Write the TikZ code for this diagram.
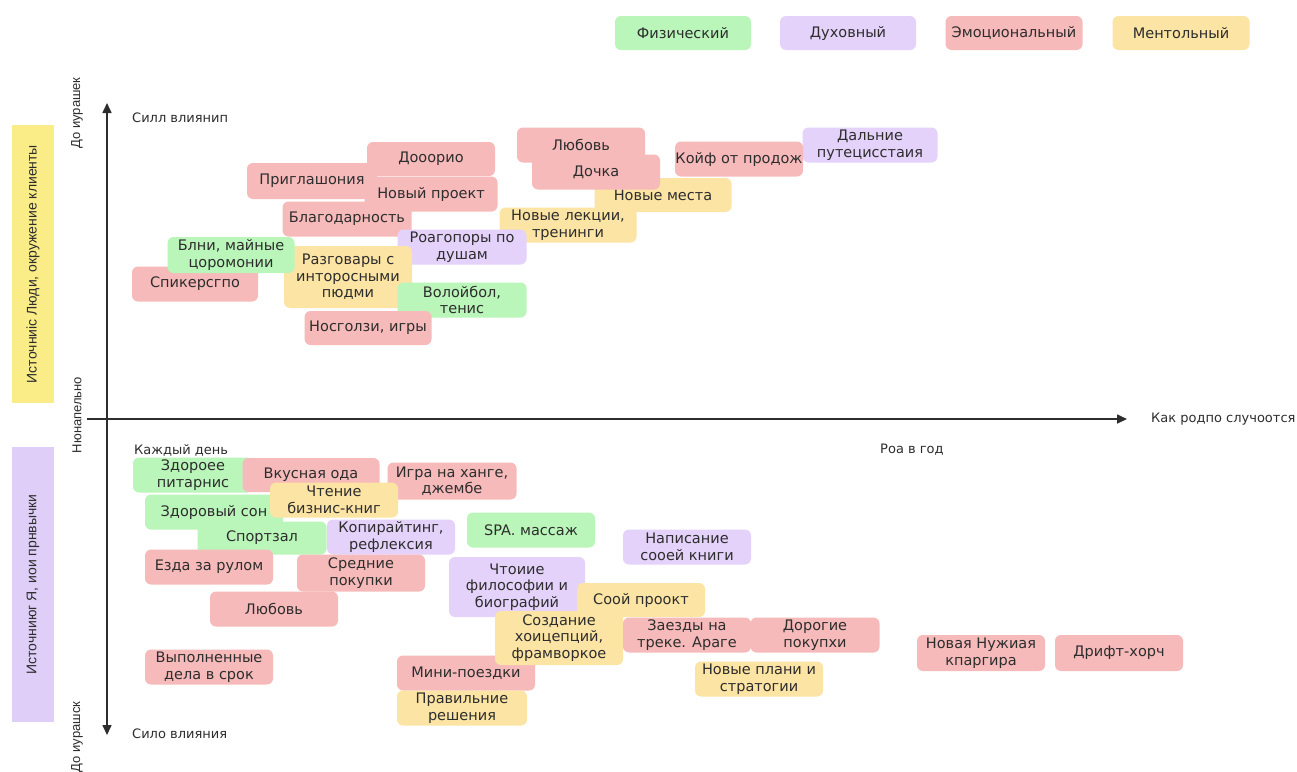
\documentclass[tikz,border=0pt]{standalone}
\usepackage{fontspec}
\setmainfont{DejaVu Sans}
\newfontfamily\narrowfont{Liberation Sans}
\usetikzlibrary{arrows.meta}
\definecolor{cgreen}{RGB}{186,245,186}
\definecolor{cpurple}{RGB}{229,210,250}
\definecolor{cpink}{RGB}{246,186,186}
\definecolor{cyellow}{RGB}{252,228,164}
\definecolor{bary}{RGB}{250,236,134}
\definecolor{barp}{RGB}{223,206,248}
\definecolor{ink}{RGB}{45,45,45}
\tikzset{
  card/.style={rounded corners=6pt, inner sep=0pt, align=center, text=ink,
    font=\fontsize{14.5}{16.5}\selectfont},
  fphys/.style={card, fill=cgreen},
  fspir/.style={card, fill=cpurple},
  femo/.style={card, fill=cpink},
  fment/.style={card, fill=cyellow},
  legendbox/.style={font=\fontsize{14.5}{16}\selectfont},
  axisline/.style={draw=ink, line width=1.6pt},
  axislabel/.style={text=ink, font=\fontsize{13}{15}\selectfont, inner sep=0pt},
  vlabel/.style={text=ink, rotate=90, font=\narrowfont\fontsize{13}{15}\selectfont, inner sep=0pt},
  sourcebar/.style={rotate=90, inner sep=0pt, text=ink, font=\narrowfont\fontsize{14}{16}\selectfont}
}
\newcommand\bx[7]{\node[#2, minimum width=#5pt, minimum height=#6pt] (#1) at (#3,#4) {#7};}
\begin{document}
\begin{tikzpicture}[x=1pt,y=-1pt]
\useasboundingbox (0,0) rectangle (1297,771);
\fill[white] (0,0) rectangle (1297,771);

% legend
\bx{lphys}{fphys,legendbox}{683}{33}{136}{34}{Физический}
\bx{lspir}{fspir,legendbox}{848}{33}{136}{34}{Духовный}
\bx{lemo}{femo,legendbox}{1014}{33}{137}{34}{Эмоциональный}
\bx{lment}{fment,legendbox}{1181}{33}{137}{34}{Ментольный}

% source bars
\node[sourcebar, fill=bary, minimum width=278pt, minimum height=42pt] (bar1) at (33,264) {Источниіс Люди, окружение клиенты};
\node[sourcebar, fill=barp, minimum width=275pt, minimum height=42pt] (bar2) at (33,584.5) {Источниюг Я, иои прнвычки};

% vertical labels
\node[vlabel] (vl1) at (77,113) {До иурашек};
\node[vlabel] (vl2) at (77,415) {Нюнапельно};
\node[vlabel] (vl3) at (77,737) {До иурашск};

% axes
\coordinate (vtop) at (107,103);
\coordinate (vbot) at (107,735);
\coordinate (hleft) at (87,419);
\coordinate (hright) at (1127,419);
\draw[axisline, {Triangle[length=10pt,width=9pt]}-{Triangle[length=10pt,width=9pt]}] (vbot) -- (vtop);
\draw[axisline, -{Triangle[length=10pt,width=9pt]}] (hleft) -- (hright);

\node[axislabel, anchor=west] (sila1) at (132,118) {Силл влиянип};
\node[axislabel, anchor=west] (sila2) at (132,734) {Сило влияния};
\node[axislabel, anchor=west] (kak) at (1151,419) {Как родпо случоотся};
\node[axislabel, anchor=west] (roa) at (880,450) {Роа в год};
\node[axislabel, anchor=west] (kazh) at (134,450) {Каждый день};

% upper section
\bx{u15}{fment}{663}{195}{137}{34}{Новые места}
\bx{u16}{fment}{568}{225}{137}{35}{Новые лекции,\\тренинги}
\bx{u11}{femo}{581}{145}{128}{35}{Любовь}
\bx{u12}{femo}{596}{172}{128}{35}{Дочка}
\bx{u14}{fspir}{870}{145}{135}{35}{Дальние\\путецисстаия}
\bx{u13}{femo}{739}{159}{128}{35}{Койф от продож}
\bx{u1}{femo}{431}{159}{128}{34}{Дооорио}
\bx{u2}{femo}{312}{181}{130}{36}{Приглашония}
\bx{u3}{femo}{431}{194}{133}{35}{Новый проект}
\bx{u4}{femo}{347}{219}{129}{35}{Благодарность}
\bx{u8}{fspir}{462}{247}{129}{35}{Роагопоры по\\душам}
\bx{u6}{femo}{195}{284}{126}{35}{Спикерсгпо}
\bx{u7}{fment}{348}{277}{128}{62}{Разговары с\\интороcными\\пюдми}
\bx{u5}{fphys}{231}{255}{127}{36}{Блни, майные\\цоромонии}
\bx{u9}{fphys}{462}{300}{129}{35}{Волойбол,\\тенис}
\bx{u10}{femo}{368}{328}{127}{34}{Носголзи, игры}

% lower section
\bx{d1}{fphys}{193}{475}{120}{35}{Здороее\\питарнис}
\bx{d2}{femo}{311}{475}{137}{34}{Вкусная ода}
\bx{d3}{femo}{452}{481}{129}{37}{Игра на ханге,\\джембе}
\bx{d4}{fphys}{214}{512}{138}{35}{Здоровый сон}
\bx{d5}{fment}{334}{500}{128}{35}{Чтение\\бизнис-книг}
\bx{d6}{fphys}{262}{538}{129}{33}{Спортзал}
\bx{d7}{fspir}{391}{537}{128}{35}{Копирайтинг,\\рефлексия}
\bx{d8}{femo}{209}{567}{128}{35}{Езда за рулом}
\bx{d9}{femo}{361}{573}{128}{37}{Средние\\покупки}
\bx{d10}{femo}{274}{609}{128}{35}{Любовь}
\bx{d11}{femo}{209}{667}{128}{35}{Выполненные\\дела в срок}
\bx{d12}{fphys}{531}{530}{128}{35}{SPA. массаж}
\bx{d13}{fspir}{687}{547}{128}{35}{Написание\\сооей книги}
\bx{d14}{fspir}{517}{587}{136}{60}{Чтоиие\\философии и\\биографий}
\bx{d15}{fment}{641}{600}{128}{34}{Соой проокт}
\bx{d19}{femo}{466}{673}{138}{35}{Мини-поездки}
\bx{d20}{fment}{462}{708}{130}{35}{Правильние\\решения}
\bx{d16}{fment}{559}{638}{128}{54}{Создание\\хоицепций,\\фрамворкое}
\bx{d17}{femo}{687}{635}{128}{35}{Заезды на\\треке. Араге}
\bx{d18}{femo}{815}{635}{129}{35}{Дорогие\\покупхи}
\bx{d21}{fment}{759}{679}{128}{35}{Новые плани и\\стратогии}
\bx{d22}{femo}{981}{653}{128}{36}{Новая Нужиая\\кпаргира}
\bx{d23}{femo}{1119}{653}{128}{36}{Дрифт-хорч}
\end{tikzpicture}
\end{document}
